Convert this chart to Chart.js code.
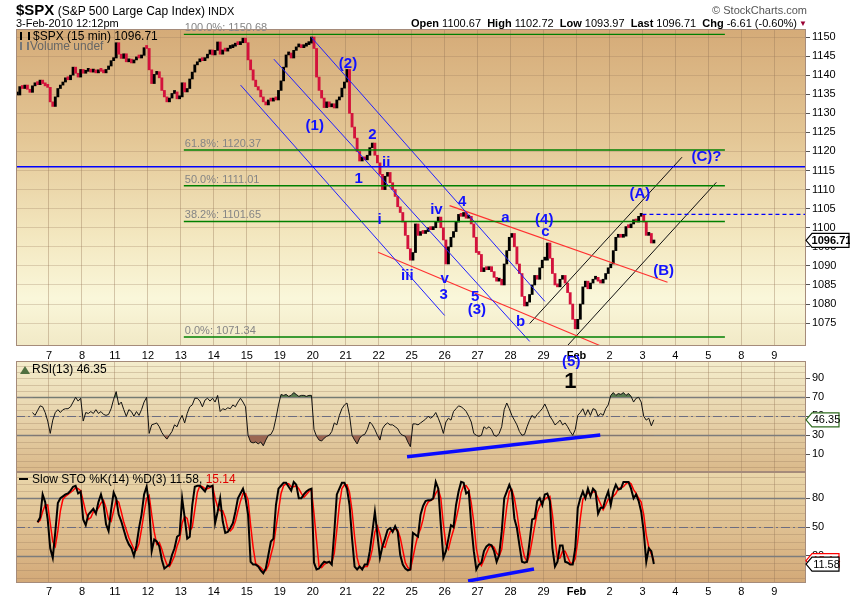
<!DOCTYPE html>
<html><head><meta charset="utf-8">
<script src="https://cdn.jsdelivr.net/npm/chart.js@4"></script>
<style>
html,body{margin:0;padding:0;background:#fff;width:850px;height:600px;overflow:hidden;font-family:"Liberation Sans",Arial,sans-serif;}
canvas{position:absolute;left:0;}
#cMain{top:0;z-index:3;}
#cRsi{top:361px;z-index:1;}
#cSto{top:472px;z-index:1;}
.t{position:absolute;white-space:nowrap;z-index:5;line-height:1;color:#000;}
</style></head><body>
<div class="t" style="left:16px;top:2px;"><b style="font-size:15px">$SPX</b><span style="font-size:12px"> (S&amp;P 500 Large Cap Index)</span><span style="font-size:11px"> INDX</span></div>
<div class="t" style="left:16px;top:18px;font-size:11px;">3-Feb-2010 12:12pm</div>
<div class="t" style="right:53px;top:18px;font-size:11px;"><b>Open</b> 1100.67 &nbsp;<b>High</b> 1102.72 &nbsp;<b>Low</b> 1093.97 &nbsp;<b>Last</b> 1096.71 &nbsp;<b>Chg</b> -6.61 (-0.60%)</div>
<div class="t" style="left:799px;top:20px;font-size:8px;color:#990033;">▼</div>
<div class="t" style="right:43px;top:5px;font-size:11px;color:#555;">© StockCharts.com</div>
<div class="t" style="left:33px;top:30px;font-size:12px;">$SPX (15 min) 1096.71</div>
<div class="t" style="left:30px;top:40px;font-size:12px;color:#666;">Volume undef</div>
<div class="t" style="left:32px;top:363px;font-size:12px;">RSI(13) 46.35</div>
<div class="t" style="left:32px;top:473px;font-size:12px;">Slow STO %K(14) %D(3) 11.58, <span style="color:#e00000">15.14</span></div>
<div class="t" style="left:20px;top:32px;width:10px;height:8px;border-left:2px solid #000;border-right:2px solid #000;box-sizing:border-box;"></div>
<div class="t" style="left:20px;top:42px;width:9px;height:8px;border-left:2px solid #777;border-right:2px solid #777;box-sizing:border-box;"></div>
<div class="t" style="left:20px;top:366px;width:0;height:0;border-left:5px solid transparent;border-right:5px solid transparent;border-bottom:8px solid #4f7040;"></div>
<div class="t" style="left:19px;top:478px;width:9px;height:2px;background:#000;"></div>
<canvas id="cMain" width="850" height="400"></canvas>
<canvas id="cRsi" width="850" height="111"></canvas>
<canvas id="cSto" width="850" height="128"></canvas>
<script>
// ---------- DATA ----------
const dayLabels = ['7','8','11','12','13','14','15','19','20','21','22','25','26','27','28','29','Feb','2','3','4','5','8','9'];
const barsPerDay = 13; // half-hour samples per session, first session = Jan 6
const priceTicks = [1075,1080,1085,1090,1095,1100,1105,1110,1115,1120,1125,1130,1135,1140,1145,1150];
const closes = [
 1134.8,1137.0,1136.5,1137.4,1136.3,1135.5,1137.2,1138.0,1137.5,1138.7,1137.8,1137.2,1136.8, // Jan 6
 1133.0,1131.8,1134.3,1136.5,1137.4,1138.2,1139.3,1138.8,1140.0,1142.1,1140.5,1139.5,1141.5, // Jan 7
 1140.5,1141.0,1141.4,1140.8,1141.3,1140.6,1141.4,1141.0,1140.6,1141.5,1142.4,1143.8,1144.5, // Jan 8
 1148.5,1145.5,1144.4,1145.6,1143.5,1144.2,1143.2,1144.0,1144.7,1144.5,1145.2,1147.2,1147.0, // Jan 11
 1141.4,1137.8,1140.2,1140.9,1139.3,1136.0,1134.3,1133.0,1134.0,1135.2,1135.6,1133.8,1134.3, // Jan 12
 1138.0,1135.6,1136.5,1139.0,1140.8,1142.7,1143.5,1144.0,1143.8,1144.5,1145.5,1146.6,1145.3, // Jan 13
 1146.5,1148.7,1145.5,1146.6,1146.3,1147.0,1147.2,1147.6,1148.3,1148.0,1148.5,1149.7,1148.5, // Jan 14
 1144.0,1141.4,1138.7,1137.0,1136.1,1134.3,1133.0,1132.2,1133.5,1133.2,1134.0,1133.5,1136.0, // Jan 15
 1138.5,1142.1,1145.3,1145.8,1144.5,1146.5,1147.4,1147.8,1147.2,1147.6,1148.0,1148.4,1150.0, // Jan 19
 1147.0,1139.5,1136.0,1134.0,1131.5,1133.0,1131.7,1132.5,1131.4,1133.5,1134.3,1136.6,1138.2, // Jan 20
 1141.5,1130.0,1126.4,1123.5,1120.0,1117.5,1118.5,1117.8,1119.0,1121.0,1122.2,1119.0,1117.0, // Jan 21
 1114.0,1110.0,1113.5,1114.5,1111.8,1110.0,1108.2,1105.5,1104.0,1101.5,1098.0,1094.5,1091.5, // Jan 22
 1093.5,1101.0,1098.0,1099.0,1098.5,1099.0,1100.0,1099.5,1100.0,1101.5,1102.8,1100.0,1096.8, // Jan 25
 1090.5,1095.0,1097.5,1099.0,1101.5,1103.5,1103.0,1104.0,1102.5,1103.0,1101.0,1097.5,1093.5, // Jan 26
 1093.0,1088.5,1089.5,1089.0,1089.8,1088.5,1087.0,1086.0,1086.5,1085.0,1090.5,1094.0,1097.5, // Jan 27
 1098.5,1095.0,1090.5,1088.0,1082.0,1079.5,1080.5,1082.5,1085.0,1087.5,1086.5,1089.5,1091.5, // Jan 28
 1091.5,1096.0,1092.0,1088.0,1085.0,1084.5,1086.5,1087.5,1085.5,1083.0,1080.0,1076.0,1073.5, // Jan 29
 1076.0,1080.0,1084.5,1086.0,1084.0,1085.5,1086.5,1087.0,1086.0,1085.5,1086.5,1088.0,1089.5, // Feb 1
 1090.5,1094.0,1097.5,1098.2,1097.5,1097.8,1100.3,1100.0,1101.0,1102.1,1101.5,1103.0,1103.3, // Feb 2
 1101.5,1098.0,1098.5,1096.0,1096.71 // Feb 3
];
const rsi13 = [
 null,null,null,null,null,null,54,51,56,61,60,54,45,
 32,46,54,57,54,57,58,58,60,65,70,66,69,
 45,54,53,55,53,57,53,55,52,51,52,58,68,
 76,62,65,57,50,57,55,50,55,51,57,65,70,
 32,41,42,43,39,33,29,26,30,34,41,39,46,
 51,43,53,60,62,69,69,66,60,67,69,66,69,
 65,72,55,58,57,59,58,62,60,65,69,65,60,
 30,23,22,23,21,23,19,25,30,31,36,48,62,
 73,72,73,71,72,75,73,71,72,72,71,72,72,
 36,29,25,24,27,29,30,34,43,41,51,58,62,
 64,51,30,25,21,27,30,31,36,44,41,36,30,
 25,37,41,43,41,41,39,37,32,30,29,23,18,
 42,42,41,43,45,47,50,48,50,54,48,41,32,
 44,48,46,55,58,61,60,58,55,50,44,32,30,
 29,30,39,37,39,36,30,29,32,39,57,64,58,
 51,46,41,34,30,31,39,46,51,48,52,55,58,
 63,57,50,46,41,43,46,41,43,39,34,30,36,
 51,54,58,51,57,51,58,57,50,53,51,58,62,
 72,75,72,74,73,75,72,74,71,65,69,70,65,
 50,46,48,40,46.35
];
const stoK = [
 null,null,null,null,null,null,null,null,55,60,84,76,58,
 28,18,45,75,80,82,84,85,88,92,93,85,87,
 58,52,63,66,69,64,76,84,74,53,46,68,86,
 80,63,56,47,38,32,28,20,31,49,63,84,92,
 73,25,37,35,30,16,7,9,11,21,28,40,42,
 80,60,38,40,73,92,93,93,90,87,93,92,93,
 54,66,80,56,44,45,49,54,66,80,85,90,80,
 63,14,11,11,9,5,2,7,21,35,38,73,90,
 93,96,96,92,88,97,94,80,80,84,87,89,90,
 13,6,7,11,14,13,14,11,45,84,90,96,96,
 90,73,38,9,6,9,6,11,11,25,45,66,42,
 18,30,38,47,49,45,51,45,21,11,7,5,6,
 44,42,40,63,72,77,78,78,80,97,90,52,18,
 25,38,52,50,73,87,97,96,85,87,52,25,6,
 11,13,25,30,32,31,25,14,21,45,80,87,94,
 87,59,49,31,14,13,14,35,58,59,77,80,73,
 84,85,77,28,9,14,31,31,14,13,11,11,28,
 70,80,87,80,90,82,90,87,64,70,70,80,87,
 73,87,94,89,90,97,97,97,90,80,84,77,66,
 45,14,28,25,11.58
];
const stoD = [
 null,null,null,null,null,null,null,null,55,57,66,73,73,
 54,35,30,46,67,79,82,84,86,88,91,90,88,
 77,66,58,60,66,66,70,75,78,70,58,56,67,
 78,76,66,55,47,39,33,27,26,33,48,65,80,
 83,63,45,32,34,27,18,11,9,14,20,30,37,
 54,61,59,46,50,68,86,93,92,90,90,91,93,
 80,71,67,67,60,48,46,49,56,67,77,85,85,
 78,52,29,12,10,8,5,5,10,21,31,49,67,
 85,93,95,95,92,92,93,90,85,81,84,87,89,
 64,36,9,8,11,13,14,13,23,47,73,90,94,
 94,86,67,40,18,8,7,9,9,16,27,45,51,
 42,30,29,38,45,47,48,47,39,26,13,8,6,
 18,31,42,48,58,71,76,78,79,85,89,80,53,
 32,27,38,47,58,70,86,93,93,89,75,55,28,
 14,10,16,23,29,31,29,23,20,27,49,71,87,
 89,80,65,46,31,19,14,21,36,51,65,72,77,
 79,81,82,63,38,17,18,25,25,19,13,12,17,
 36,59,79,82,86,84,87,86,80,74,68,73,79,
 80,82,85,90,91,92,95,97,95,89,85,80,76,
 63,42,29,22,15.14
];
const fibLevels = [['100.0%',1150.68],['61.8%',1120.37],['50.0%',1111.01],['38.2%',1101.65],['0.0%',1071.34]];
const fibSpan = [4.09, 20.5];
const resistanceLevel = 1116.0;
const dashedLevel = [18.0, 1103.5];
const blueChannel = [[[5.81,1137.4],[12.0,1077.0]], [[6.82,1144.2],[14.58,1070.2]], [[7.96,1149.9],[15.04,1080.7]]];
const redChannel = [[[12.15,1105.8],[18.76,1085.7]], [[9.98,1093.6],[17.18,1067.4]]];
const blackChannel = [[[14.58,1074.9],[19.2,1118.5]], [[15.43,1066.3],[20.24,1111.9]]];
const waveLabels = [
 ['(2)',9.07,1142.9],['(1)',8.06,1126.7],['2',9.81,1124.3],['ii',10.23,1117.1],['1',9.39,1112.7],
 ['i',10.03,1102.1],['iii',10.87,1087.3],['iv',11.75,1104.7],['4',12.53,1106.7],['v',12.0,1086.6],
 ['3',11.97,1082.5],['5',12.93,1081.9],['(3)',12.98,1078.5],['a',13.84,1102.5],['(4)',15.02,1102.1],
 ['c',15.06,1098.9],['b',14.30,1075.2],['(A)',17.92,1108.8],['(B)',18.64,1088.8],['(C)?',19.94,1118.5],
 ['(5)',15.84,1064.8]
];
const degreeLabel = ['1',15.81,1059.6];
const rsiTrend = [[10.86,7.5],[16.72,30.3]];
const stoTrend = [[12.71,-6],[14.71,6.5]];
const rsiGrid = [-3.33,3.33,10,16.67,23.33,30,36.67,43.33,50,56.67,63.33,70,76.67,83.33,90,96.67,103.33];
const rsiLabels = [10,30,50,70,90];
const stoGrid = [-2.5,5,12.5,20,27.5,35,42.5,50,57.5,65,72.5,80,87.5,95,102.5];
const stoLabels = [20,50,80];

// ---------- HELPERS ----------
Chart.defaults.font.family = '"Liberation Sans", Arial, sans-serif';
Chart.defaults.animation = false;
Chart.defaults.events = [];
Chart.defaults.plugins.legend.display = false;
Chart.defaults.plugins.tooltip.enabled = false;

const X_MIN = -1, X_MAX = 22.96;
const xOf = i => Math.floor(i / barsPerDay) - 1 + ((i % barsPerDay) + 0.5) / barsPerDay;
const pts = arr => arr.map((v, i) => ({x: xOf(i), y: v}));
const seg = (p, color, width, dash) => ({type:'line', data: p.map(q => ({x:q[0], y:q[1]})), borderColor: color,
  borderWidth: width, borderDash: dash || [], pointRadius: 0, fill: false, tension: 0, order: 1});

function xScale(showLabels, h) {
  return { type:'linear', min:X_MIN, max:X_MAX, offset:false,
    afterBuildTicks: s => { const t = []; for (let d = -1; d <= 22; d++) t.push({value:d}); s.ticks = t; },
    afterFit: s => { s.height = h; s.paddingLeft = 0; s.paddingRight = 0; },
    grid: {color:'rgba(150,118,88,0.38)', drawTicks:false, offset:false, lineWidth:1},
    border: {display:false},
    ticks: {display:showLabels, padding:3, autoSkip:false, maxRotation:0, color:'#000',
      font: c => ({family:'"Liberation Sans", Arial, sans-serif', size:11, weight:(c.tick && c.tick.value === 16) ? 'bold' : 'normal'}),
      callback: v => (v >= 0 && v < dayLabels.length) ? dayLabels[v] : ''}
  };
}
function yScale(min, max, labels, gridOnArea, gridColor) {
  return { position:'right', min, max,
    afterBuildTicks: s => { s.ticks = labels.map(v => ({value:v})); },
    afterFit: s => { s.width = 44; s.paddingTop = 0; s.paddingBottom = 0; },
    grid: {color: gridColor, tickLength:4, drawTicks:true, drawOnChartArea: gridOnArea, tickColor:'#555'},
    border: {display:false},
    ticks: {padding:2, color:'#000', autoSkip:false, font:{size:11}, callback: v => String(v)}
  };
}
function gradientBg(stops) {
  return { id:'bg', beforeDraw(chart) {
    const {ctx, chartArea:a} = chart;
    const g = ctx.createLinearGradient(0, a.top, 0, a.bottom);
    stops.forEach(s => g.addColorStop(s[0], s[1]));
    ctx.save(); ctx.fillStyle = g; ctx.fillRect(a.left, a.top, a.right - a.left, a.bottom - a.top); ctx.restore();
  }};
}
function refLines(minor, solid, dashed) {
  return { id:'refLines', beforeDatasetsDraw(chart) {
    const {ctx, chartArea:a, scales:{y}} = chart;
    const hline = v => { const py = Math.round(y.getPixelForValue(v)) + 0.5; ctx.beginPath(); ctx.moveTo(a.left, py); ctx.lineTo(a.right, py); ctx.stroke(); };
    ctx.save();
    ctx.strokeStyle = 'rgba(150,118,88,0.3)'; ctx.lineWidth = 1;
    minor.forEach(hline);
    ctx.strokeStyle = '#7c7c7c'; ctx.lineWidth = 1.3;
    solid.forEach(hline);
    ctx.strokeStyle = '#6c6c80'; ctx.lineWidth = 1; ctx.setLineDash([9,3,2,3]);
    dashed.forEach(hline);
    ctx.restore();
  }};
}
const frame = { id:'frame', afterDraw(chart) {
  const {ctx, chartArea:a} = chart;
  ctx.save(); ctx.strokeStyle = '#a58b7a'; ctx.lineWidth = 1;
  ctx.strokeRect(Math.round(a.left) + 0.5, Math.round(a.top) + 0.5, Math.round(a.right - a.left) - 1, Math.round(a.bottom - a.top) - 1);
  ctx.restore();
}};
function drawBox(ctx, x, y, w, text, stroke, textColor, bold) {
  ctx.save();
  ctx.beginPath(); ctx.moveTo(x, y); ctx.lineTo(x + 6, y - 7); ctx.lineTo(x + w, y - 7); ctx.lineTo(x + w, y + 7); ctx.lineTo(x + 6, y + 7); ctx.closePath();
  ctx.fillStyle = '#fff'; ctx.fill(); ctx.strokeStyle = stroke; ctx.lineWidth = 1.2; ctx.stroke();
  ctx.fillStyle = textColor; ctx.font = (bold ? 'bold ' : '') + '11px "Liberation Sans", Arial, sans-serif';
  ctx.textAlign = 'center'; ctx.textBaseline = 'middle'; ctx.fillText(text, x + 4 + w / 2, y + 0.5);
  ctx.restore();
}
const last = a => a[a.length - 1];

// ---------- MAIN PRICE PANEL ----------
const priceBars = closes.map((c, i) => { const p = i ? closes[i - 1] : c; return {x: xOf(i), y: [Math.min(p, c), Math.max(p, c)]}; });
const priceColors = closes.map((c, i) => (i && c < closes[i - 1]) ? '#d3123c' : '#000000');
const mainDatasets = [
  {type:'bar', data: priceBars, backgroundColor: priceColors, barThickness: 2.2, minBarLength: 3, borderWidth: 0, order: 2, grouped:false}
];
fibLevels.forEach(f => mainDatasets.push(seg([[fibSpan[0], f[1]], [fibSpan[1], f[1]]], '#008000', 1.4)));
mainDatasets.push(seg([[X_MIN, resistanceLevel], [X_MAX, resistanceLevel]], '#0000ff', 1.5));
mainDatasets.push(seg([[dashedLevel[0], dashedLevel[1]], [X_MAX, dashedLevel[1]]], '#0000ff', 1.4, [4,3]));
blueChannel.forEach(l => mainDatasets.push(seg(l, '#2020ff', 1)));
redChannel.forEach(l => mainDatasets.push(seg(l, '#ff3030', 1.1)));
blackChannel.forEach(l => mainDatasets.push(seg(l, '#111111', 1)));

const mainOverlay = { id:'mainOverlay', afterDatasetsDraw(chart) {
  const {ctx, scales:{x, y}} = chart;
  ctx.save();
  ctx.font = '11px "Liberation Sans", Arial, sans-serif'; ctx.fillStyle = '#858585'; ctx.textAlign = 'left'; ctx.textBaseline = 'alphabetic';
  fibLevels.forEach(f => ctx.fillText(f[0] + ': ' + f[1].toFixed(2), x.getPixelForValue(fibSpan[0]) + 1, y.getPixelForValue(f[1]) - 3));
  ctx.font = 'bold 15px "Liberation Sans", Arial, sans-serif'; ctx.fillStyle = '#1212ff'; ctx.textAlign = 'center'; ctx.textBaseline = 'middle';
  waveLabels.forEach(w => ctx.fillText(w[0], x.getPixelForValue(w[1]), y.getPixelForValue(w[2])));
  ctx.font = 'bold 22px "Liberation Sans", Arial, sans-serif'; ctx.fillStyle = '#000';
  ctx.fillText(degreeLabel[0], x.getPixelForValue(degreeLabel[1]), y.getPixelForValue(degreeLabel[2]));
  ctx.restore();
}};
const mainValueBox = { id:'valueBox', afterDraw(chart) {
  const {ctx, chartArea:a, scales:{y}} = chart;
  drawBox(ctx, a.right, y.getPixelForValue(last(closes)), 43, last(closes).toFixed(2), '#000', '#000', true);
}};

new Chart(document.getElementById('cMain'), {
  type: 'bar',
  data: { datasets: mainDatasets },
  options: {
    responsive:false, animation:false, events:[],
    layout: {padding:{left:16, right:0, top:29, bottom:39}, autoPadding:false},
    scales: { x: xScale(true, 15), y: yScale(1069, 1152.1, priceTicks, true, 'rgba(150,118,88,0.28)') }
  },
  plugins: [gradientBg([[0,'#d5ab78'],[0.35,'#e4c796'],[0.65,'#f3e7bf'],[0.85,'#faf7da'],[1,'#f1e9c6']]), mainOverlay, frame, mainValueBox]
});

// ---------- RSI PANEL ----------
const rsiPts = pts(rsi13);
new Chart(document.getElementById('cRsi'), {
  type: 'line',
  data: { datasets: [
    {data: rsiPts, borderWidth: 0, borderColor:'rgba(0,0,0,0)', pointRadius: 0, fill:{target:{value:30}, above:'rgba(0,0,0,0)', below:'#9b6652'}, order:3},
    {data: rsiPts, borderWidth: 0, borderColor:'rgba(0,0,0,0)', pointRadius: 0, fill:{target:{value:70}, above:'#587a4e', below:'rgba(0,0,0,0)'}, order:3},
    {data: rsiPts, borderColor:'#111', borderWidth: 1, pointRadius: 0, fill:false, tension:0, order:2},
    Object.assign(seg(rsiTrend, '#0a0aff', 3.5), {order:1})
  ]},
  options: {
    responsive:false, animation:false, events:[],
    layout: {padding:{left:16, right:0, top:0, bottom:0}, autoPadding:false},
    scales: { x: xScale(false, 0), y: yScale(-8.6, 108.2, rsiLabels, false, 'rgba(160,128,98,0.28)') }
  },
  plugins: [gradientBg([[0,'#f4edcc'],[1,'#dab98a']]), refLines(rsiGrid, [30,70], [50]), frame,
    {id:'rsiBox', afterDraw(chart){ const {ctx, chartArea:a, scales:{y}} = chart; drawBox(ctx, a.right, y.getPixelForValue(last(rsi13)), 33, last(rsi13).toFixed(2), '#2e6b1e', '#000', false); }}]
});

// ---------- SLOW STOCHASTIC PANEL ----------
new Chart(document.getElementById('cSto'), {
  type: 'line',
  data: { datasets: [
    {data: pts(stoD), borderColor:'#ff0000', borderWidth: 1.5, pointRadius: 0, fill:false, tension:0, order:3},
    {data: pts(stoK), borderColor:'#000', borderWidth: 2, pointRadius: 0, fill:false, tension:0, order:2},
    Object.assign(seg(stoTrend, '#0a0aff', 3.5), {order:1})
  ]},
  options: {
    responsive:false, animation:false, events:[],
    layout: {padding:{left:16, right:0, top:0, bottom:0}, autoPadding:false},
    scales: { x: xScale(true, 17.3), y: yScale(-7.8, 107.3, stoLabels, false, 'rgba(150,118,88,0.28)') }
  },
  plugins: [gradientBg([[0,'#ead7ab'],[1,'#d3a978']]), refLines(stoGrid, [20,80], [50]), frame,
    {id:'stoBox', afterDraw(chart){ const {ctx, chartArea:a, scales:{y}} = chart;
      drawBox(ctx, a.right, y.getPixelForValue(last(stoD)), 33, last(stoD).toFixed(2), '#ff0000', '#ff0000', false);
      drawBox(ctx, a.right, y.getPixelForValue(last(stoK)), 33, last(stoK).toFixed(2), '#000', '#000', false); }}]
});
</script>
</body></html>
